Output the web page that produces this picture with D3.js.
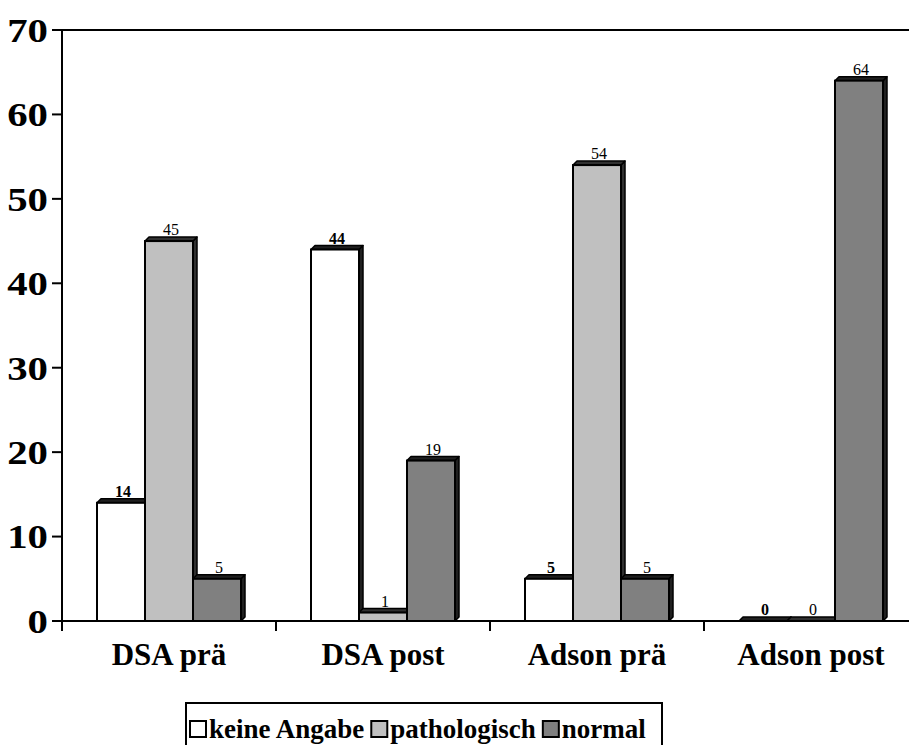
<!DOCTYPE html>
<html><head><meta charset="utf-8">
<script src="https://cdn.jsdelivr.net/npm/d3@7"></script>
<style>body{margin:0;background:#fff}svg{display:block}</style>
</head><body>
<svg id="c" width="909" height="745"></svg>
<script>
const categories = ["DSA prä", "DSA post", "Adson prä", "Adson post"];
const seriesNames = ["keine Angabe", "pathologisch", "normal"];
const keineAngabe = [14, 44, 5, 0];
const pathologisch = [45, 1, 54, 0];
const normal = [5, 19, 5, 64];
const yTicks = [0, 10, 20, 30, 40, 50, 60, 70];
const colors = ["#ffffff", "#c0c0c0", "#808080"];
const sideColors = ["#202020", "#303030", "#202020"];

const seriesValues = [keineAngabe, pathologisch, normal];
const svg = d3.select("#c");
const font = "'Liberation Serif','Times New Roman',serif";

const y = d3.scaleLinear().domain([0, 70]).range([621, 30]);
const x0 = d3.scaleBand().domain(categories).range([62, 62 + 4 * 214]);
const x1 = d3.scaleBand().domain(seriesNames).range([35, 179]);
const depth = 4;

// top border line
svg.append("line").attr("x1", 62).attr("x2", 909).attr("y1", y(70)).attr("y2", y(70))
  .attr("stroke", "#000").attr("stroke-width", 2);

// bars
categories.forEach((cat, ci) => {
  seriesNames.forEach((s, si) => {
    const v = seriesValues[si][ci];
    const bx = x0(cat) + x1(s);
    const bw = x1.bandwidth();
    const top = y(v), base = y(0);
    const g = svg.append("g");
    g.append("polygon")
      .attr("points", [[bx + bw, top], [bx + bw + depth, top - depth], [bx + bw + depth, base - depth], [bx + bw, base]].join(" "))
      .attr("fill", sideColors[si]).attr("stroke", "#000").attr("stroke-width", 1.5).attr("stroke-linejoin", "round");
    g.append("polygon")
      .attr("points", [[bx, top], [bx + depth, top - depth], [bx + bw + depth, top - depth], [bx + bw, top]].join(" "))
      .attr("fill", sideColors[si]).attr("stroke", "#000").attr("stroke-width", 1.5).attr("stroke-linejoin", "round");
    if (v > 0) {
      g.append("rect").attr("x", bx).attr("y", top).attr("width", bw).attr("height", base - top)
        .attr("fill", colors[si]).attr("stroke", "#000").attr("stroke-width", 2);
    }
    svg.append("text").attr("x", bx + bw / 2 + 2).attr("y", top - depth - 2)
      .attr("text-anchor", "middle").attr("font-family", font).attr("font-size", 16)
      .attr("font-weight", si === 0 ? "bold" : "normal").text(v);
  });
});

// y axis
svg.append("line").attr("x1", 62).attr("x2", 62).attr("y1", 30).attr("y2", 631)
  .attr("stroke", "#000").attr("stroke-width", 2);
yTicks.forEach(t => {
  svg.append("line").attr("x1", 52).attr("x2", 62).attr("y1", y(t)).attr("y2", y(t))
    .attr("stroke", "#000").attr("stroke-width", 2);
  svg.append("text").attr("transform", `translate(48,${y(t)}) scale(1.2,1)`)
    .attr("dy", "0.35em")
    .attr("text-anchor", "end").attr("font-family", font).attr("font-size", 34)
    .attr("font-weight", "bold").text(t);
});

// x axis
svg.append("line").attr("x1", 52).attr("x2", 909).attr("y1", y(0)).attr("y2", y(0))
  .attr("stroke", "#000").attr("stroke-width", 2);
categories.forEach(cat => {
  svg.append("line").attr("x1", x0(cat)).attr("x2", x0(cat)).attr("y1", 621).attr("y2", 631)
    .attr("stroke", "#000").attr("stroke-width", 2);
  svg.append("text").attr("x", x0(cat) + x0.bandwidth() / 2).attr("y", 665)
    .attr("text-anchor", "middle").attr("font-family", font).attr("font-size", 31)
    .attr("font-weight", "bold").text(cat);
});
svg.append("line").attr("x1", 918).attr("x2", 918).attr("y1", 621).attr("y2", 631)
  .attr("stroke", "#000").attr("stroke-width", 2);

// legend
svg.append("rect").attr("x", 186).attr("y", 703).attr("width", 476).attr("height", 60)
  .attr("fill", "#fff").attr("stroke", "#000").attr("stroke-width", 2);
let lx = 190;
seriesNames.forEach((s, i) => {
  svg.append("rect").attr("x", lx).attr("y", 721).attr("width", 16).attr("height", 16)
    .attr("fill", colors[i]).attr("stroke", "#000").attr("stroke-width", 2);
  const t = svg.append("text").attr("x", lx + 19).attr("y", 738)
    .attr("font-family", font).attr("font-size", 27).attr("font-weight", "bold").text(s);
  lx += 19 + t.node().getComputedTextLength() + 7;
});
</script>
</body></html>
